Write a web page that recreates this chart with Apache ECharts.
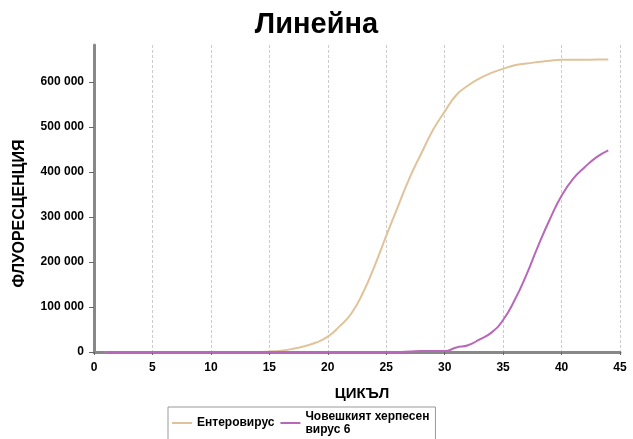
<!DOCTYPE html>
<html>
<head>
<meta charset="utf-8">
<script src="https://cdn.jsdelivr.net/npm/echarts@6/dist/echarts.min.js"></script>
<style>
  html, body { margin: 0; padding: 0; background: #fff; }
  #chart { width: 633px; height: 439px; }
</style>
</head>
<body>
<div id="chart"></div>
<script>
// cycles 1..44
const cycles = [];
for (let c = 1; c <= 44; c++) cycles.push(c);

// fluorescence
const enterovirus = [
  0, 0, 0, 0, 0, 0, 0, 0, 0, 0,
  0, 0, 0, 0, 1000, 3000, 7000, 13000, 21000, 34000,
  57000, 85000, 131000, 191000, 258000, 323000, 387000, 441000, 493000, 534000,
  571000, 592000, 608000, 620000, 629000, 637000, 641000, 644000, 647000, 649000,
  649000, 649000, 650000, 650000
];
const hhv6 = [
  0, 0, 0, 0, 0, 0, 0, 0, 0, 0,
  0, 0, 0, 0, 0, 0, 0, 0, 0, 0,
  0, 0, 0, 0, 0, 0, 1000, 2000, 2000, 2000,
  10000, 15000, 28000, 43000, 71000, 116000, 172000, 236000, 295000, 347000,
  385000, 411000, 433000, 448000
];
const yTicks = [0, 100000, 200000, 300000, 400000, 500000, 600000];

const seriesNames = ["Ентеровирус", "Човешкият херпесен\nвирус 6"];
const seriesColors = ["#e0c39b", "#b868b8"];

const font = "'Liberation Sans', Arial, sans-serif";

function fmt(v) {
  return String(v).replace(/\B(?=(\d{3})+(?!\d))/g, " ");
}

const chart = echarts.init(document.getElementById("chart"));
chart.setOption({
  animation: false,
  title: {
    text: "Линейна",
    left: "center",
    top: 5,
    textStyle: { fontFamily: font, fontWeight: "bold", fontSize: 29, color: "#000" }
  },
  grid: { left: 94, right: 13, top: 45, bottom: 87 },
  legend: {
    left: 168,
    top: 407,
    width: 280,
    padding: [3, 6, 6, 4],
    itemGap: 6,
    borderColor: "#999",
    borderWidth: 1,
    icon: "rect",
    itemWidth: 20,
    itemHeight: 2,
    textStyle: { fontFamily: font, fontWeight: "bold", fontSize: 12, color: "#000", lineHeight: 13 },
    data: seriesNames
  },
  xAxis: {
    type: "value",
    min: 0,
    max: 45,
    interval: 5,
    name: "ЦИКЪЛ",
    nameLocation: "middle",
    nameGap: 34,
    nameTextStyle: { fontFamily: font, fontWeight: "bold", fontSize: 15, color: "#000", padding: [0, 0, 0, 10] },
    axisLine: { lineStyle: { color: "#888", width: 3 } },
    axisTick: { length: 3, lineStyle: { color: "#666" } },
    axisLabel: { fontFamily: font, fontWeight: "bold", fontSize: 12, color: "#000", margin: 10 },
    splitLine: { show: true, lineStyle: { color: "#ccc", type: [3, 2], width: 1 } }
  },
  yAxis: {
    type: "value",
    min: 0,
    max: 682000,
    name: "ФЛУОРЕСЦЕНЦИЯ",
    nameLocation: "middle",
    nameRotate: 90,
    nameGap: 66,
    nameTextStyle: { fontFamily: font, fontWeight: "bold", fontSize: 16, color: "#000", padding: [0, 30, 0, 0] },
    axisLine: { show: true, lineStyle: { color: "#888", width: 3 } },
    axisTick: { show: true, length: 5, customValues: yTicks, lineStyle: { color: "#666" } },
    axisLabel: {
      fontFamily: font, fontWeight: "bold", fontSize: 12, color: "#000", margin: 10,
      customValues: yTicks,
      formatter: v => fmt(v)
    },
    splitLine: { show: false }
  },
  series: [
    {
      name: seriesNames[0],
      type: "line",
      smooth: true,
      symbol: "none",
      color: seriesColors[0],
      lineStyle: { width: 2 },
      data: cycles.map((c, i) => [c, enterovirus[i]])
    },
    {
      name: seriesNames[1],
      type: "line",
      smooth: true,
      symbol: "none",
      color: seriesColors[1],
      lineStyle: { width: 2 },
      data: cycles.map((c, i) => [c, hhv6[i]])
    }
  ]
});
</script>
</body>
</html>
